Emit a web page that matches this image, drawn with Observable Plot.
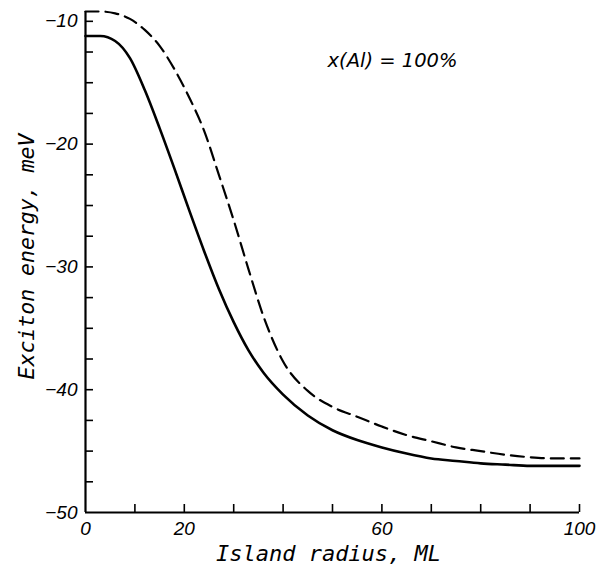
<!DOCTYPE html>
<html><head><meta charset="utf-8">
<script src="https://cdn.jsdelivr.net/npm/d3@7"></script>
<script src="https://cdn.jsdelivr.net/npm/@observablehq/plot@0.6"></script>
<style>body{margin:0;background:#fff}</style>
</head><body><div id="chart"></div>
<script>
const radius       = [0, 3, 6, 9, 12, 15, 18, 21, 24, 27, 30, 33, 36, 40, 45, 50, 55, 60, 65, 70, 75, 80, 85, 90, 95, 100];
const solidEnergy  = [-11.2, -11.2, -11.6, -13.0, -15.6, -18.7, -22.0, -25.4, -28.7, -31.8, -34.5, -36.8, -38.6, -40.4, -42.1, -43.3, -44.1, -44.7, -45.2, -45.6, -45.8, -46.0, -46.1, -46.2, -46.2, -46.2];
const dashedEnergy = [-9.2, -9.2, -9.35, -9.8, -10.7, -12.0, -13.9, -16.2, -18.9, -22.5, -26.2, -30.2, -34.0, -37.7, -40.1, -41.4, -42.2, -43.0, -43.7, -44.2, -44.7, -45.0, -45.3, -45.5, -45.6, -45.6];
const xTickValues = [10, 20, 30, 40, 50, 60, 70, 80, 90, 100];
const xTickLabels = [0, 20, 60, 100];
const yTickValues = [-47.5, -45, -42.5, -40, -37.5, -35, -32.5, -30, -27.5, -25, -22.5, -20, -17.5, -15, -12.5, -10];
const yTickLabels = [-50, -40, -30, -20, -10];
const xTitle = "Island radius, ML";
const yTitle = "Exciton energy, meV";
const annotationText = "x(Al) = 100%";
const annotationAt = {x: 49, y: -13.7};

const rows = radius.map((r, i) => ({r, solid: solidEnergy[i], dashed: dashedEnergy[i]}));
const fmt = d => (d < 0 ? "\u2212" : "") + Math.abs(d);
const tickFont = {fontFamily: "Liberation Sans", fontSize: 19, fontStyle: "italic"};
const titleFont = {fontFamily: "DejaVu Sans Mono", fontStyle: "oblique"};

const chart = Plot.plot({
  width: 599, height: 567,
  marginLeft: 85, marginRight: 20, marginTop: 11, marginBottom: 55,
  style: {background: "#fff", color: "#000"},
  x: {domain: [0, 100]},
  y: {domain: [-50, -9.2]},
  marks: [
    Plot.axisX(xTickValues, {tickSize: -8, strokeWidth: 1.6, fill: "none", label: null}),
    Plot.axisX(xTickLabels, {tickSize: 0, tickPadding: 9, tickFormat: fmt, label: null, ...tickFont}),
    Plot.axisY(yTickValues, {tickSize: -8, strokeWidth: 1.6, fill: "none", label: null}),
    Plot.axisY(yTickLabels, {tickSize: 0, tickPadding: 8, tickFormat: fmt, label: null, ...tickFont}),
    Plot.ruleX([0], {strokeWidth: 2.2}),
    Plot.ruleY([-50], {strokeWidth: 2.2}),
    Plot.line(rows, {x: "r", y: "dashed", curve: "monotone-x", strokeWidth: 2.2, strokeDasharray: "13,7"}),
    Plot.line(rows, {x: "r", y: "solid", curve: "monotone-x", strokeWidth: 2.6}),
    Plot.text([annotationText], {x: () => annotationAt.x, y: () => annotationAt.y, textAnchor: "start", lineAnchor: "bottom", fontFamily: "DejaVu Sans", fontStyle: "oblique", fontSize: 19.5}),
    Plot.text([xTitle], {frameAnchor: "bottom", textAnchor: "middle", lineAnchor: "bottom", dx: -4, dy: 48, fontSize: 22, ...titleFont}),
    Plot.text([yTitle], {frameAnchor: "left", textAnchor: "middle", rotate: -90, lineAnchor: "bottom", dx: -51.5, dy: -5.5, fontSize: 21.5, ...titleFont})
  ]
});
document.getElementById("chart").append(chart);
</script>
</body></html>
